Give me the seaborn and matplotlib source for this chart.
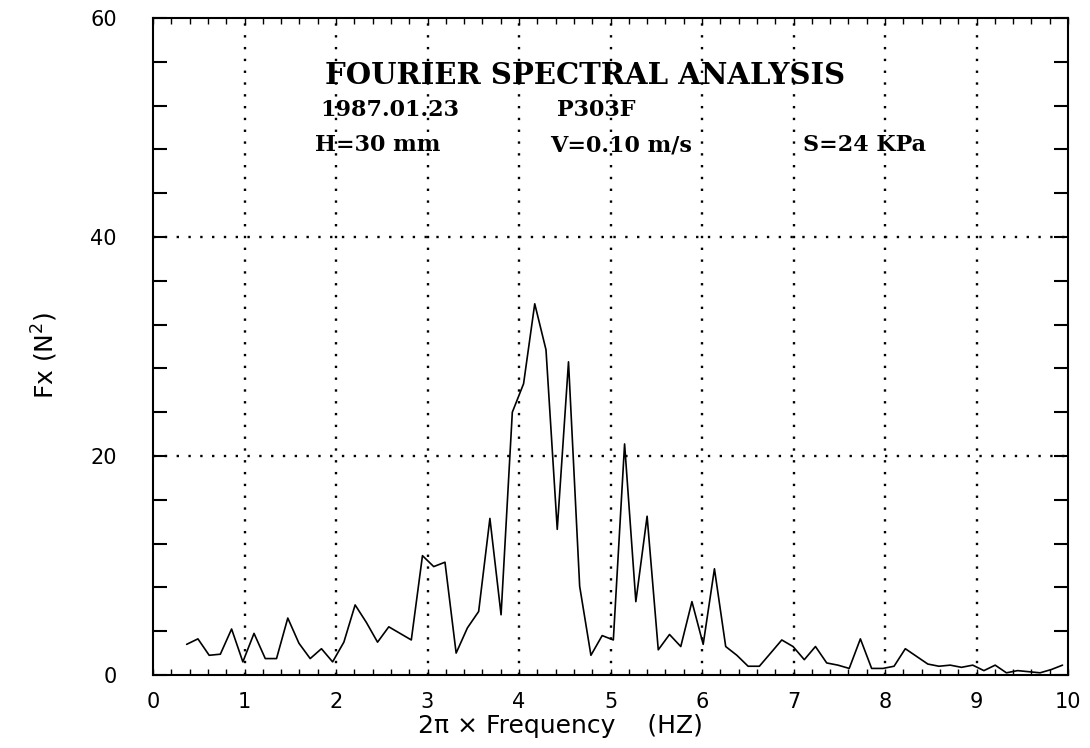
import matplotlib
matplotlib.use("Agg")
import matplotlib.pyplot as plt
from matplotlib.ticker import MultipleLocator
import seaborn as sns
import pandas as pd

# Angular frequency (2*pi*f) of each spectral line
omega = [0.368, 0.491, 0.614, 0.736, 0.859, 0.982, 1.104, 1.227, 1.350, 1.473,
         1.595, 1.718, 1.841, 1.963, 2.086, 2.209, 2.332, 2.454, 2.577, 2.700,
         2.823, 2.945, 3.068, 3.191, 3.313, 3.436, 3.559, 3.682, 3.804, 3.927,
         4.050, 4.172, 4.295, 4.418, 4.541, 4.663, 4.786, 4.909, 5.031, 5.154,
         5.277, 5.400, 5.522, 5.645, 5.768, 5.890, 6.013, 6.136, 6.259, 6.381,
         6.504, 6.627, 6.750, 6.872, 6.995, 7.118, 7.240, 7.363, 7.486, 7.609,
         7.731, 7.854, 7.977, 8.099, 8.222, 8.345, 8.468, 8.590, 8.713, 8.836,
         8.959, 9.081, 9.204, 9.327, 9.449, 9.572, 9.695, 9.818, 9.940]

# Power spectral density of the horizontal force Fx (N^2)
fx_power = [2.8, 3.3, 1.8, 1.9, 4.2, 1.2, 3.8, 1.5, 1.5, 5.2,
            2.9, 1.5, 2.4, 1.2, 3.0, 6.4, 4.8, 3.0, 4.4, 3.8,
            3.2, 10.9, 9.9, 10.3, 2.0, 4.3, 5.8, 14.3, 5.5, 24.0,
            26.6, 33.9, 29.7, 13.3, 28.6, 8.1, 1.8, 3.6, 3.2, 21.1,
            6.7, 14.5, 2.3, 3.7, 2.6, 6.7, 2.8, 9.7, 2.6, 1.8,
            0.8, 0.8, 2.0, 3.2, 2.6, 1.4, 2.6, 1.1, 0.9, 0.6,
            3.3, 0.6, 0.6, 0.8, 2.4, 1.7, 1.0, 0.8, 0.9, 0.7,
            0.9, 0.4, 0.9, 0.2, 0.4, 0.3, 0.2, 0.5, 0.9]

x_ticks = [0, 1, 2, 3, 4, 5, 6, 7, 8, 9, 10]
y_ticks = [0, 20, 40, 60]
grid_x = [1, 2, 3, 4, 5, 6, 7, 8, 9]
grid_y = [20, 40]

title_line = "FOURIER SPECTRAL ANALYSIS"
date_text = "1987.01.23"
run_text = "P303F"
cond_texts = ["H=30 mm", "V=0.10 m/s", "S=24 KPa"]

sns.set_theme(style="white")
plt.rcParams["font.family"] = ["DejaVu Sans"]

W, H = 1090, 748
fig = plt.figure(figsize=(W / 100, H / 100), dpi=100)
ax = fig.add_axes([153 / W, 1 - 675 / H, (1068 - 153) / W, (675 - 18) / H])

df = pd.DataFrame({"omega": omega, "Fx": fx_power})
sns.lineplot(data=df, x="omega", y="Fx", ax=ax, color="black", linewidth=1.2)

# dotted reference grid
for gx in grid_x:
    ax.axvline(gx, color="black", linestyle=(0, (1, 4)), linewidth=1.7, zorder=1)
for gy in grid_y:
    ax.axhline(gy, color="black", linestyle=(0, (1, 4)), linewidth=1.7, zorder=1)

ax.set_xlim(0, 10)
ax.set_ylim(0, 60)
ax.set_xticks(x_ticks)
ax.set_yticks(y_ticks)
ax.xaxis.set_minor_locator(MultipleLocator(0.2))
ax.yaxis.set_minor_locator(MultipleLocator(4))
ax.tick_params(axis="x", which="both", direction="in", top=True, bottom=True,
               length=4, width=1.0, color="black", labelsize=15, pad=12)
ax.tick_params(axis="y", which="both", direction="in", left=True, right=True,
               length=10, width=1.5, color="black", labelsize=15, pad=26)
for lab in ax.get_xticklabels() + ax.get_yticklabels():
    lab.set_color("black")

for sp in ax.spines.values():
    sp.set_color("black")
    sp.set_linewidth(1.5)

ax.set_xlabel("2π × Frequency    (HZ)", fontsize=18, color="black")
ax.set_ylabel("Fx (N$^2$)", fontsize=18, color="black")
ax.xaxis.label.set_va("center")
ax.yaxis.label.set_va("center")
ax.xaxis.set_label_coords((560 - 153) / 915, (675 - 726) / 657)
ax.yaxis.set_label_coords((45 - 153) / 915, (675 - 355) / 657)

serif = ["DejaVu Serif"]
fig.text(585 / W, 1 - 75 / H, title_line, ha="center", va="center",
         fontsize=21, fontweight="bold", family=serif, color="black")
fig.text(320 / W, 1 - 110 / H, date_text, ha="left", va="center",
         fontsize=16, fontweight="bold", family=serif, color="black")
fig.text(557 / W, 1 - 110 / H, run_text, ha="left", va="center",
         fontsize=16, fontweight="bold", family=serif, color="black")
for xp, txt in zip([315, 550, 803], cond_texts):
    fig.text(xp / W, 1 - 145 / H, txt, ha="left", va="center",
             fontsize=16, fontweight="bold", family=serif, color="black")

fig.savefig("out.png", dpi=100, facecolor="white")
